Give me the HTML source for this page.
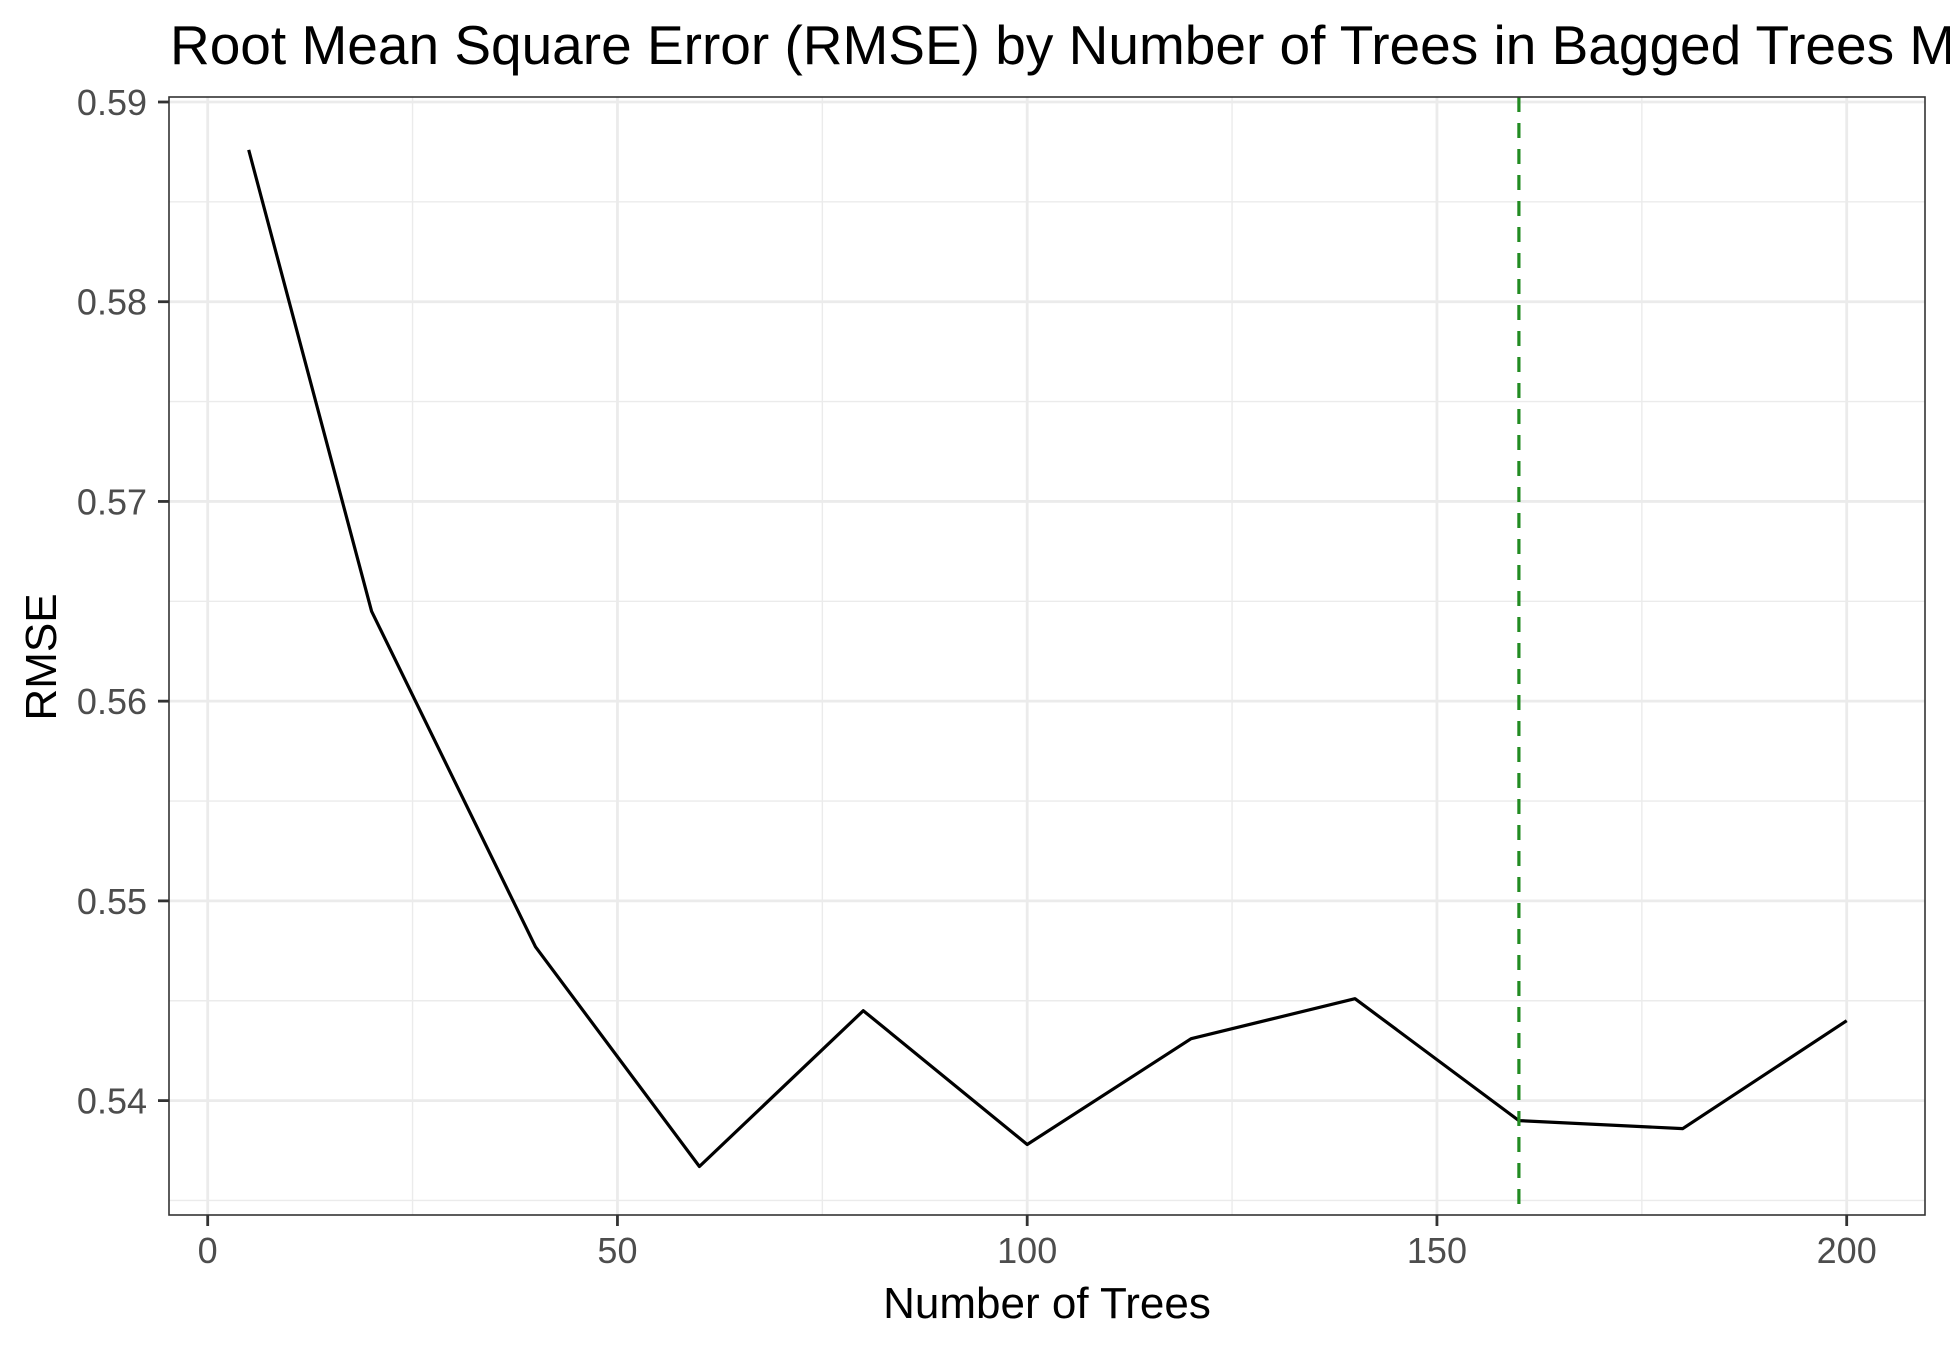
<!DOCTYPE html>
<html><head><meta charset="utf-8"><style>
html,body{margin:0;padding:0;background:#fff;}
svg{display:block;font-family:"Liberation Sans",Arial,sans-serif;}
</style></head><body>
<svg id="chart" width="1950" height="1350" viewBox="0 0 1950 1350">
<rect width="1950" height="1350" fill="#fff"/>
<text x="170" y="64" font-size="55" fill="#000">Root Mean Square Error (RMSE) by Number of Trees in Bagged Trees Model</text>
<g id="grid"></g>
<g id="marks"></g>
<rect x="169" y="97" width="1756" height="1118" fill="none" stroke="#333" stroke-width="1.6"/>
<g id="axes"></g>
<text x="1047" y="1318" font-size="44" text-anchor="middle" fill="#000">Number of Trees</text>
<text x="0" y="0" font-size="44" text-anchor="middle" fill="#000" transform="translate(56,657) rotate(-90)">RMSE</text>
</svg>
<script>
const trees = [5, 20, 40, 60, 80, 100, 120, 140, 160, 180, 200];
const rmse = [0.5876, 0.5645, 0.5477, 0.5367, 0.5445, 0.5378, 0.5431, 0.5451, 0.5390, 0.5386, 0.5440];
const bestTrees = 160;
const xTicks = [0, 50, 100, 150, 200];
const xTickLabels = ["0", "50", "100", "150", "200"];
const yTicks = [0.54, 0.55, 0.56, 0.57, 0.58, 0.59];
const yTickLabels = ["0.54", "0.55", "0.56", "0.57", "0.58", "0.59"];

const NS = "http://www.w3.org/2000/svg";
const L = 169, T = 97, R = 1925, B = 1215;
function xs(v){ return 207.7 + (v - 0) * (1846.7 - 207.7) / 200; }
function ys(v){ return 1100.6 - (v - 0.54) * (1100.6 - 102) / 0.05; }
function mk(tag, attrs, parent){
  const e = document.createElementNS(NS, tag);
  for (const k in attrs) e.setAttribute(k, attrs[k]);
  parent.appendChild(e); return e;
}
const grid = document.getElementById('grid');
const marks = document.getElementById('marks');
const axes = document.getElementById('axes');

for (let i = 0; i < xTicks.length + 1; i++) {
  const v = (i - 0.5) * 50;
  const x = xs(v);
  if (x > L && x < R) {
    const ln = mk('line', {x1:x, x2:x, y1:T, y2:B, stroke:'#ebebeb', 'stroke-width':1.4}, grid);
    
    
  }
}
for (let i = 0; i <= yTicks.length; i++) {
  const v = 0.535 + i * 0.01;
  const y = ys(v);
  if (y > T && y < B) {
    const ln = mk('line', {x1:L, x2:R, y1:y, y2:y, stroke:'#ebebeb', 'stroke-width':1.4}, grid);
    
    
  }
}
xTicks.forEach((v, i) => {
  const x = xs(v);
  const ln = mk('line', {x1:x, x2:x, y1:T, y2:B, stroke:'#ebebeb', 'stroke-width':2.8}, grid);
  
  
  const tk = mk('line', {x1:x, x2:x, y1:B, y2:B + 11, stroke:'#333', 'stroke-width':2.8}, axes);
  
  
  const t = mk('text', {x:x, y:B + 48, 'font-size':36, 'text-anchor':'middle', fill:'#4d4d4d'}, axes);
  t.textContent = xTickLabels[i];
  
  
});
yTicks.forEach((v, i) => {
  const y = ys(v);
  const ln = mk('line', {x1:L, x2:R, y1:y, y2:y, stroke:'#ebebeb', 'stroke-width':2.8}, grid);
  
  
  const tk = mk('line', {x1:L - 11, x2:L, y1:y, y2:y, stroke:'#333', 'stroke-width':2.8}, axes);
  
  
  const t = mk('text', {x:L - 22, y:y + 13, 'font-size':36, 'text-anchor':'end', fill:'#4d4d4d'}, axes);
  t.textContent = yTickLabels[i];
  
  
});
const pts = trees.map((t, i) => xs(t).toFixed(1) + ',' + ys(rmse[i]).toFixed(1)).join(' ');
const pl = mk('polyline', {points:pts, fill:'none', stroke:'#000', 'stroke-width':3.2, 'stroke-linejoin':'round'}, marks);


const vx = xs(bestTrees);
const vl = mk('line', {x1:vx, x2:vx, y1:T, y2:B, stroke:'#228b22', 'stroke-width':3.2, 'stroke-dasharray':'15 11'}, marks);


</script>
</body></html>
